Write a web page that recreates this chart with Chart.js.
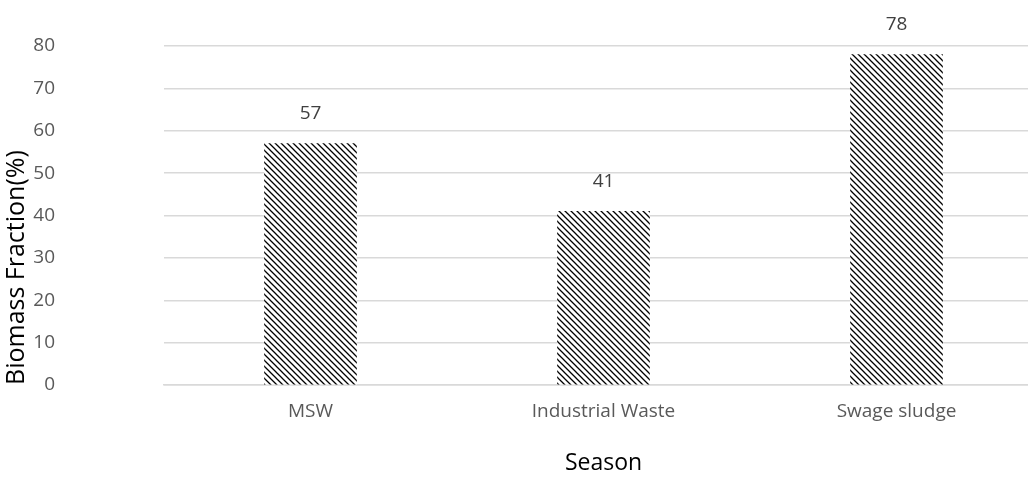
<!DOCTYPE html>
<html>
<head>
<meta charset="utf-8">
<script src="https://cdn.jsdelivr.net/npm/chart.js@4/dist/chart.umd.min.js"></script>
<style>
html,body{margin:0;padding:0;background:#fff;overflow:hidden}
#wrap{width:1043px;height:477px}
</style>
</head>
<body>
<div id="wrap"><canvas id="myChart"></canvas></div>
<script>
var categories=['MSW','Industrial Waste','Swage sludge']
var fractions=[57,41,78]
var yTicks=[0,10,20,30,40,50,60,70,80]

var fontName='"Open Sans", "Noto Sans", sans-serif'

// diagonal hatch like the original fill
function hatch(){
 var t=document.createElement('canvas')
 t.width=6;t.height=6
 var c=t.getContext('2d')
 c.fillStyle='#fff';c.fillRect(0,0,6,6)
 c.strokeStyle='#000';c.lineWidth=1.3
 c.beginPath()
 c.moveTo(-1,-1);c.lineTo(7,7)
 c.moveTo(-7,-1);c.lineTo(1,7)
 c.moveTo(5,-1);c.lineTo(13,7)
 c.stroke()
 return c.createPattern(t,'repeat')
}

var valueLabels={
 id:'valueLabels',
 afterDatasetsDraw:function(chart){
  var ctx=chart.ctx
  var meta=chart.getDatasetMeta(0)
  ctx.save()
  ctx.font='19px '+fontName
  ctx.fillStyle='#404040'
  ctx.textAlign='center'
  ctx.textBaseline='middle'
  meta.data.forEach(function(bar,i){
   ctx.fillText(fractions[i],bar.x,bar.y-30)
  })
  ctx.restore()
 }
}

var ctx=document.getElementById('myChart').getContext('2d')
var visual=new Chart(ctx,{
 type:'bar',
 data:{labels:categories,
  datasets:[{data:fractions,backgroundColor:hatch(),borderWidth:0,barThickness:92}]},
 options:{
  responsive:true,maintainAspectRatio:false,animation:false,
  layout:{padding:{top:46,right:0,left:0,bottom:0}},
  plugins:{legend:{display:false},tooltip:{enabled:false}},
  scales:{
   x:{
    grid:{display:false},
    border:{color:'#d9d9d9',width:1.5},
    ticks:{color:'#595959',font:{family:fontName,size:19},padding:7},
    title:{display:true,text:'Season',color:'#000',font:{family:fontName,size:23},padding:{top:0,bottom:0}},
    afterFit:function(s){s.height=92}
   },
   y:{
    min:0,max:80,
    afterBuildTicks:function(s){s.ticks=yTicks.map(function(v){return {value:v}})},
    grid:{color:'#d9d9d9',lineWidth:1.5,drawTicks:false},
    border:{display:false},
    ticks:{color:'#595959',font:{family:fontName,size:19},padding:109},
    title:{display:true,text:'Biomass Fraction(%)',color:'#000',align:'start',font:{family:fontName,size:25},padding:{top:2,bottom:0}},
    afterFit:function(s){s.width=164;s.paddingTop=0;s.paddingBottom=0}
   }
  }
 },
 plugins:[valueLabels]
})
</script>
</body>
</html>
